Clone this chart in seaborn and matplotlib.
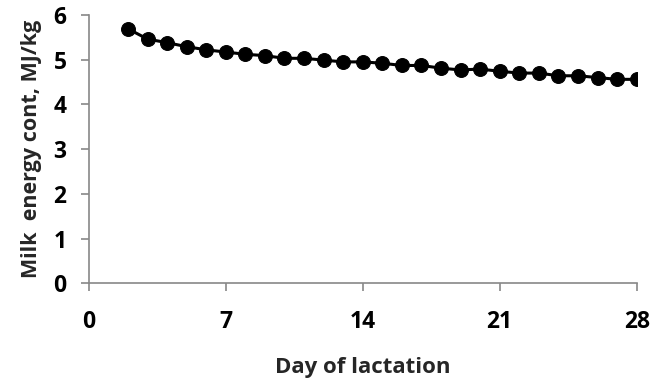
import matplotlib
matplotlib.use("Agg")
import matplotlib.pyplot as plt
import seaborn as sns
import pandas as pd

days = list(range(2, 29))
energy = [5.69, 5.46, 5.38, 5.29, 5.22, 5.17, 5.12, 5.09, 5.03, 5.03,
          4.99, 4.95, 4.95, 4.92, 4.87, 4.87, 4.81, 4.77, 4.79, 4.74,
          4.70, 4.70, 4.64, 4.64, 4.60, 4.56, 4.56]
x_ticks = [0, 7, 14, 21, 28]
y_ticks = [0, 1, 2, 3, 4, 5, 6]

df = pd.DataFrame({"day": days, "energy": energy})

sns.set_style("white")
plt.rcParams['font.family'] = ['Open Sans', 'DejaVu Sans']
plt.rcParams['font.weight'] = 'bold'

fig = plt.figure(figsize=(6.53, 3.82), dpi=100)
ax = fig.add_axes([0.136, 0.258, 0.839, 0.703])

sns.lineplot(data=df, x="day", y="energy", ax=ax, color="black",
             marker="o", markersize=10, linewidth=2.2,
             markeredgecolor="black")

ax.set_xlim(0, 28)
ax.set_ylim(0, 6)
ax.set_xticks(x_ticks)
ax.set_yticks(y_ticks)
ax.set_xlabel("Day of lactation", fontsize=16, fontweight="bold", labelpad=17)
ax.set_ylabel("Milk  energy cont, MJ/kg", fontsize=15.5, fontweight="bold", labelpad=8)
for lab in ax.get_xticklabels() + ax.get_yticklabels():
    lab.set_fontweight("bold")
    lab.set_fontsize(16.5)

for s in ["top", "right"]:
    ax.spines[s].set_visible(False)
for s in ["left", "bottom"]:
    ax.spines[s].set_color("#888888")
    ax.spines[s].set_linewidth(1.2)
ax.tick_params(axis="both", direction="out", length=6, width=1.2,
               color="#888888", labelcolor="black", bottom=True, left=True)
ax.tick_params(axis="x", pad=13)
ax.tick_params(axis="y", pad=10)

fig.savefig("out.png", dpi=100)
